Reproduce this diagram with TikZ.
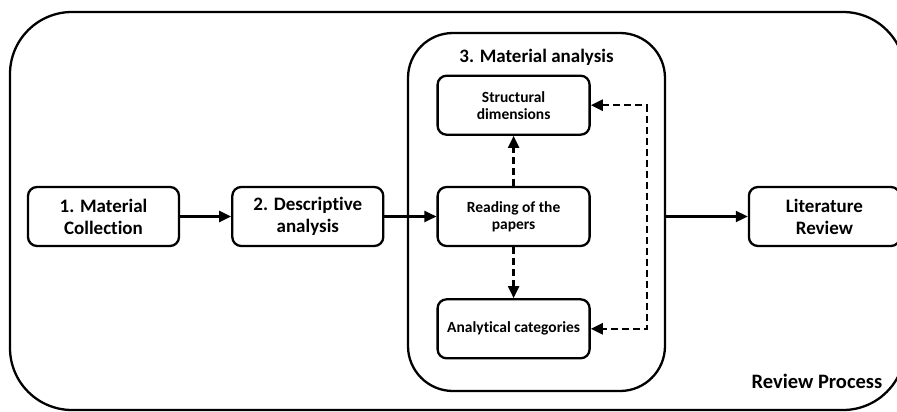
\documentclass[tikz,border=0pt]{standalone}
\usepackage{fontspec}
\setmainfont{Carlito}[Ligatures=NoCommon]
\usetikzlibrary{arrows.meta}
\usetikzlibrary{positioning}
\tikzstyle{step_box} = [
    rectangle,
    rounded corners=9pt,
    draw=black,
    line width=2.3pt,
    font=\bfseries\fontsize{19}{22}\selectfont,
    align=center,
    inner sep=2pt,
    minimum width=151pt,
    minimum height=59pt
]
\tikzstyle{sub_box} = [
    step_box,
    font=\bfseries\fontsize{15.5}{17}\selectfont,
    minimum width=152pt
]
\tikzstyle{group_box} = [
    rectangle,
    rounded corners=45pt,
    draw=black,
    line width=2.3pt,
    minimum width=257pt,
    minimum height=358pt
]
\tikzstyle{flow_arrow} = [
    line width=2.3pt,
    -{Triangle[length=12pt, width=11pt]}
]
\tikzstyle{dash_arrow} = [
    flow_arrow,
    dash pattern=on 7pt off 4pt
]

\begin{document}
\begin{tikzpicture}[x=1pt, y=-1pt]
\useasboundingbox (0,0) rectangle (897,412);
\clip (0,0) rectangle (897,412);
% whole review process
\draw[line width=2.3pt, rounded corners=62pt] (10,12) rectangle (905,410);
\node[font=\bfseries\fontsize{20.5}{24}\selectfont] (review_label) at (817,381) {Review Process};

% step 3 frame
\node[group_box] (analysis) at (536.5,212) {};
\node[font=\bfseries\fontsize{19}{22}\selectfont] (analysis_title) at (536.5,57) {3. Material analysis};

\node[step_box] (collection) at (103.5,216.5) {1. Material\\Collection};
\node[step_box, right=51pt of collection] (descriptive) {2. Descriptive\\analysis};
\node[sub_box, right=52pt of descriptive] (reading) {Reading of the\\papers};
\node[sub_box, above=50pt of reading] (structural) {Structural\\dimensions};
\node[sub_box, below=51pt of reading] (analytical) {Analytical categories};
\node[step_box, right=157pt of reading] (literature) {Literature\\Review};

\draw[flow_arrow] (collection) -- (descriptive);
\draw[flow_arrow] (descriptive) -- (reading);
\draw[flow_arrow] (analysis.east |- literature.west) -- (literature);
\draw[dash_arrow] (reading) -- (structural);
\draw[dash_arrow] (reading) -- (analytical);
\draw[dash_arrow, {Triangle[length=12pt, width=11pt]}-{Triangle[length=12pt, width=11pt]}]
    (structural.east) -- ++(56,0) |- (analytical.east);
\end{tikzpicture}
\end{document}
